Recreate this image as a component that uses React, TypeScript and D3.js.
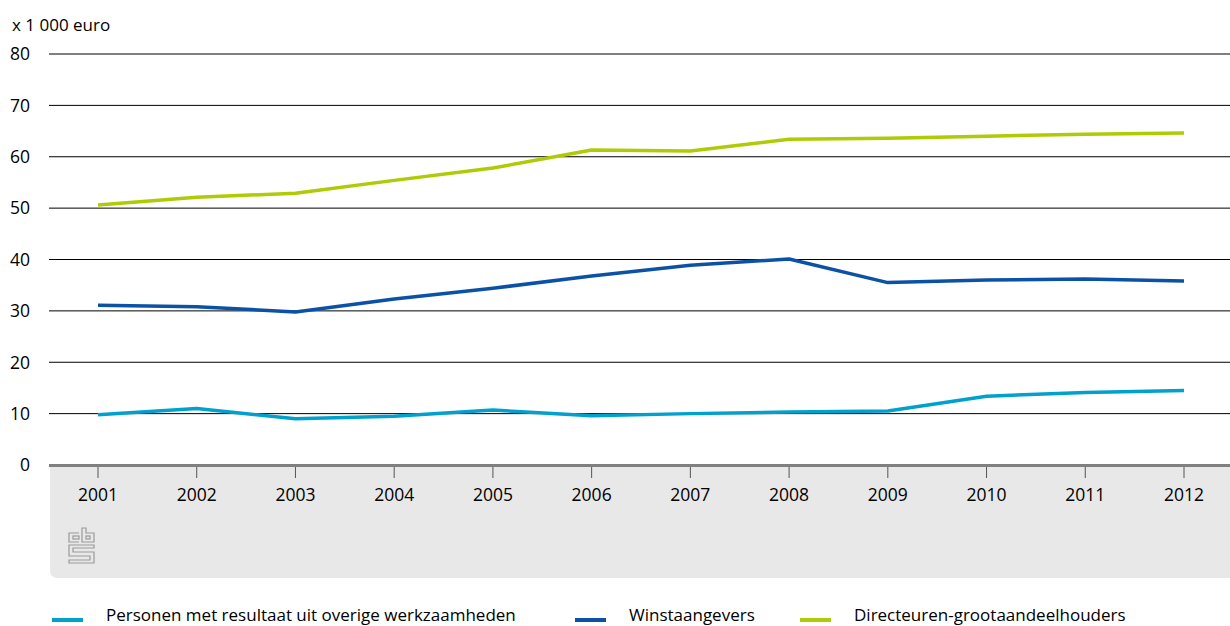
import React from "react";
import * as d3 from "d3";

const years = ["2001","2002","2003","2004","2005","2006","2007","2008","2009","2010","2011","2012"];
const personen = [9.8, 11.0, 9.0, 9.5, 10.7, 9.6, 10.0, 10.3, 10.5, 13.4, 14.1, 14.5];
const winst = [31.1, 30.8, 29.8, 32.3, 34.4, 36.8, 38.9, 40.1, 35.5, 36.0, 36.2, 35.8];
const dga = [50.6, 52.1, 52.9, 55.4, 57.8, 61.3, 61.1, 63.4, 63.6, 64.0, 64.4, 64.6];
const yTicks = [0, 10, 20, 30, 40, 50, 60, 70, 80];
const seriesNames = ["Personen met resultaat uit overige werkzaamheden", "Winstaangevers", "Directeuren-grootaandeelhouders"];
const colors = ["#00a1cd", "#0b52a6", "#afcb05"];

const W = 1230, H = 626;
const FONT = "'Open Sans', 'Noto Sans', sans-serif";

export default function App() {
  const x = d3.scalePoint<string>().domain(years).range([98, 1184]);
  const y = d3.scaleLinear().domain([0, 80]).range([465, 54]);
  const line = d3.line<number>().x((_, i) => x(years[i])!).y(d => y(d));
  const series = [personen, winst, dga];
  const legendX = [52, 575, 800];
  const bgTop = 466, bgBot = 578, bgLeft = 50, r = 8;
  const bgPath = `M${bgLeft},${bgTop} H${W} V${bgBot} H${bgLeft + r} Q${bgLeft},${bgBot} ${bgLeft},${bgBot - r} Z`;
  return (
    <svg width={W} height={H} style={{ position: "absolute", left: 0, top: 0, background: "#fff" }} fontFamily={FONT}>
      <path d={bgPath} fill="#e8e8e8" />
      <text x={12} y={31} fontSize={17} fill="#000">x 1 000 euro</text>
      {yTicks.map(t => (
        <g key={t}>
          {t > 0 && <line x1={49} x2={W} y1={y(t)} y2={y(t)} stroke="#000" strokeWidth={1} />}
          <text x={30} y={y(t)} dy="0.36em" textAnchor="end" fontSize={17.5} fill="#000">{t}</text>
        </g>
      ))}
      <line x1={49} x2={W} y1={465.5} y2={465.5} stroke="#808080" strokeWidth={3} />
      {years.map(yr => (
        <g key={yr}>
          <line x1={x(yr)} x2={x(yr)} y1={467} y2={478} stroke="#555" strokeWidth={1} />
          <text x={x(yr)} y={501} textAnchor="middle" fontSize={17.5} fill="#000">{yr}</text>
        </g>
      ))}
      {series.map((s, i) => (
        <path key={i} d={line(s)!} fill="none" stroke={colors[i]} strokeWidth={3.5} strokeLinejoin="round" strokeLinecap="butt" />
      ))}
      <g transform="translate(69,528)" fill="none" stroke="#999" strokeWidth={1.2}>
        <path d="M10,5 H0 V14 H10" />
        <rect x={4} y={8} width={6} height={3} />
        <path d="M13,0 H17 V5 H25 V14 H13 Z" />
        <rect x={17} y={8} width={4} height={3} />
        <path d="M0,17 H25 V20 H4 V24 H25 V35 H0 V32 H21 V28 H0 Z" />
      </g>
      {seriesNames.map((n, i) => (
        <g key={n}>
          <line x1={legendX[i]} x2={legendX[i] + 31} y1={620} y2={620} stroke={colors[i]} strokeWidth={4} />
          <text x={legendX[i] + 54} y={621} fontSize={17} fill="#000">{n}</text>
        </g>
      ))}
    </svg>
  );
}
